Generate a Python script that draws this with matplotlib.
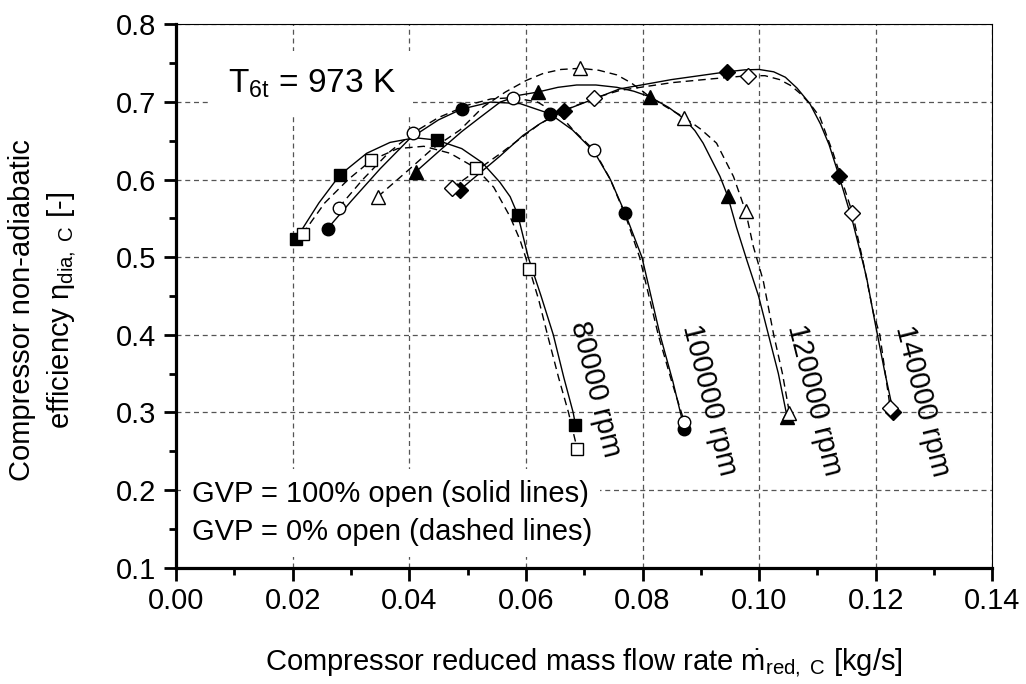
import matplotlib
matplotlib.use("Agg")
import matplotlib.pyplot as plt
from matplotlib.ticker import MultipleLocator, FormatStrFormatter

plt.rcParams['font.family'] = ['Liberation Sans', 'DejaVu Sans']
plt.rcParams['mathtext.fontset'] = 'custom'
plt.rcParams['mathtext.rm'] = 'Liberation Sans'
plt.rcParams['mathtext.it'] = 'Liberation Sans'
plt.rcParams['mathtext.bf'] = 'Liberation Sans:bold'

# ---------------- measured points (markers) ----------------
speeds = ["80000 rpm", "100000 rpm", "120000 rpm", "140000 rpm"]

# GVP = 100 % open (solid lines, filled markers)
m80_open100_x = [0.0206, 0.0281, 0.0447, 0.0586, 0.0685]
m80_open100_y = [0.524, 0.606, 0.651, 0.555, 0.284]
m100_open100_x = [0.0260, 0.0490, 0.0641, 0.0770, 0.0872]
m100_open100_y = [0.537, 0.691, 0.685, 0.557, 0.278]
m120_open100_x = [0.0411, 0.0621, 0.0812, 0.0946, 0.1048]
m120_open100_y = [0.610, 0.713, 0.707, 0.579, 0.294]
m140_open100_x = [0.0487, 0.0665, 0.0945, 0.1137, 0.1230]
m140_open100_y = [0.587, 0.689, 0.739, 0.605, 0.301]

# GVP = 0 % open (dashed lines, open markers)
m80_open0_x = [0.0217, 0.0335, 0.0514, 0.0606, 0.0688]
m80_open0_y = [0.530, 0.625, 0.615, 0.485, 0.253]
m100_open0_x = [0.0279, 0.0407, 0.0578, 0.0717, 0.0872]
m100_open0_y = [0.564, 0.6605, 0.7057, 0.638, 0.287]
m120_open0_x = [0.0346, 0.0693, 0.0872, 0.0977, 0.1052]
m120_open0_y = [0.578, 0.7435, 0.680, 0.559, 0.299]
m140_open0_x = [0.0473, 0.0717, 0.0981, 0.1160, 0.1225]
m140_open0_y = [0.589, 0.705, 0.734, 0.557, 0.305]

# ---------------- fitted curves ----------------
c80_open100_x = [0.0206, 0.0245, 0.0281, 0.0327, 0.0367, 0.0410, 0.0447, 0.0490, 0.0525,
                 0.0555, 0.0573, 0.0586, 0.0604, 0.0626, 0.0647, 0.0665, 0.0681, 0.0685]
c80_open100_y = [0.524, 0.570, 0.606, 0.634, 0.648, 0.654, 0.651, 0.640, 0.622,
                 0.597, 0.578, 0.555, 0.500, 0.450, 0.400, 0.345, 0.300, 0.284]
c80_open0_x = [0.0217, 0.0255, 0.0295, 0.0335, 0.0380, 0.0425, 0.0470, 0.0514, 0.0545,
               0.0573, 0.0590, 0.0606, 0.0622, 0.0637, 0.0656, 0.0673, 0.0688]
c80_open0_y = [0.530, 0.570, 0.600, 0.625, 0.640, 0.643, 0.634, 0.615, 0.590,
               0.552, 0.522, 0.485, 0.445, 0.400, 0.345, 0.300, 0.253]

c100_open100_x = [0.0260, 0.0300, 0.0350, 0.0401, 0.0450, 0.0490, 0.0540, 0.0590, 0.0641,
                  0.0680, 0.0717, 0.0745, 0.0770, 0.0799, 0.0830, 0.0852, 0.0872]
c100_open100_y = [0.537, 0.572, 0.614, 0.653, 0.677, 0.691, 0.700, 0.698, 0.685,
                  0.664, 0.636, 0.600, 0.557, 0.500, 0.400, 0.340, 0.278]
c100_open0_x = [0.0279, 0.0320, 0.0365, 0.0407, 0.0450, 0.0500, 0.0540, 0.0578, 0.0620,
                0.0660, 0.0681, 0.0717, 0.0745, 0.0770, 0.0795, 0.0827, 0.0850, 0.0872]
c100_open0_y = [0.564, 0.600, 0.635, 0.6605, 0.680, 0.696, 0.704, 0.7057, 0.700,
                0.682, 0.664, 0.638, 0.600, 0.555, 0.500, 0.400, 0.340, 0.287]

c120_open100_x = [0.0411, 0.0453, 0.0490, 0.0521, 0.0556, 0.0590, 0.0621, 0.0655, 0.0687,
                  0.0720, 0.0756, 0.0785, 0.0812, 0.0845, 0.0872, 0.0890, 0.0904, 0.0933,
                  0.0946, 0.0961, 0.0979, 0.0999, 0.1016, 0.1033, 0.1048]
c120_open100_y = [0.610, 0.638, 0.662, 0.680, 0.700, 0.709, 0.713, 0.719, 0.722,
                  0.722, 0.719, 0.714, 0.707, 0.693, 0.678, 0.663, 0.647, 0.604,
                  0.579, 0.539, 0.496, 0.450, 0.400, 0.350, 0.294]
c120_open0_x = [0.0346, 0.0398, 0.0440, 0.0487, 0.0527, 0.0565, 0.0601, 0.0630, 0.0660,
                0.0693, 0.0725, 0.0756, 0.0780, 0.0800, 0.0812, 0.0840, 0.0872, 0.0900,
                0.0927, 0.0956, 0.0977, 0.0990, 0.1007, 0.1025, 0.1040, 0.1052]
c120_open0_y = [0.578, 0.612, 0.640, 0.664, 0.694, 0.713, 0.728, 0.737, 0.742,
                0.7435, 0.741, 0.735, 0.725, 0.714, 0.707, 0.694, 0.680, 0.665,
                0.647, 0.604, 0.559, 0.514, 0.470, 0.400, 0.350, 0.299]

c140_open100_x = [0.0487, 0.0555, 0.0595, 0.0624, 0.0665, 0.0720, 0.0761, 0.0850, 0.0945,
                  0.0975, 0.1000, 0.1025, 0.1045, 0.1065, 0.1087, 0.1105, 0.1120, 0.1137,
                  0.1161, 0.1184, 0.1199, 0.1216, 0.1230]
c140_open100_y = [0.587, 0.630, 0.657, 0.672, 0.689, 0.705, 0.717, 0.729, 0.739,
                  0.7415, 0.742, 0.739, 0.732, 0.718, 0.698, 0.672, 0.645, 0.605,
                  0.544, 0.475, 0.415, 0.350, 0.301]
c140_open0_x = [0.0473, 0.0555, 0.0624, 0.0665, 0.0717, 0.0761, 0.0850, 0.0920, 0.0981,
                0.1010, 0.1035, 0.1055, 0.1072, 0.1090, 0.1104, 0.1127, 0.1160, 0.1179,
                0.1196, 0.1207, 0.1225]
c140_open0_y = [0.589, 0.633, 0.672, 0.689, 0.705, 0.715, 0.725, 0.730, 0.734,
                0.734, 0.729, 0.721, 0.710, 0.695, 0.681, 0.634, 0.557, 0.492,
                0.428, 0.400, 0.305]

# label positions of speed lines
rpm_label_x = [0.0720, 0.0914, 0.1095, 0.1280]
rpm_label_y = [0.330, 0.316, 0.316, 0.315]

markers = ['s', 'o', '^', 'D']
msizes = [8.5, 9, 10, 8.5]

solid_marks = [(m80_open100_x, m80_open100_y), (m100_open100_x, m100_open100_y),
               (m120_open100_x, m120_open100_y), (m140_open100_x, m140_open100_y)]
dashed_marks = [(m80_open0_x, m80_open0_y), (m100_open0_x, m100_open0_y),
                (m120_open0_x, m120_open0_y), (m140_open0_x, m140_open0_y)]
solid_curves = [(c80_open100_x, c80_open100_y), (c100_open100_x, c100_open100_y),
                (c120_open100_x, c120_open100_y), (c140_open100_x, c140_open100_y)]
dashed_curves = [(c80_open0_x, c80_open0_y), (c100_open0_x, c100_open0_y),
                 (c120_open0_x, c120_open0_y), (c140_open0_x, c140_open0_y)]

fig = plt.figure(figsize=(10.26, 6.84), dpi=100)
ax = fig.add_axes([0.1716, 0.1703, 0.7956, 0.7939])

# curves
for i in range(4):
    ax.plot(solid_curves[i][0], solid_curves[i][1], '-', color='black', lw=1.0, zorder=3)
    ax.plot(dashed_curves[i][0], dashed_curves[i][1], color='black', lw=1.0,
            linestyle=(0, (5.5, 3.5)), zorder=3)

# markers
for i in range(4):
    ax.plot(solid_marks[i][0], solid_marks[i][1], linestyle='none', marker=markers[i],
            ms=msizes[i], mfc='black', mec='black', mew=1, zorder=4)
for i in range(4):
    ax.plot(dashed_marks[i][0], dashed_marks[i][1], linestyle='none', marker=markers[i],
            ms=msizes[i], mfc='white', mec='black', mew=1, zorder=5)

# speed labels
for i in range(4):
    ax.text(rpm_label_x[i], rpm_label_y[i], speeds[i], rotation=-76, fontsize=21,
            ha='center', va='center', rotation_mode='anchor', zorder=6)

# axes
ax.set_xlim(0.0, 0.14)
ax.set_ylim(0.1, 0.8)
ax.xaxis.set_major_locator(MultipleLocator(0.02))
ax.xaxis.set_minor_locator(MultipleLocator(0.01))
ax.yaxis.set_major_locator(MultipleLocator(0.1))
ax.yaxis.set_minor_locator(MultipleLocator(0.05))
ax.xaxis.set_major_formatter(FormatStrFormatter('%.2f'))
ax.yaxis.set_major_formatter(FormatStrFormatter('%.1f'))
ax.tick_params(which='major', direction='out', length=9, width=2, labelsize=21, pad=5)
ax.tick_params(which='minor', direction='out', length=5, width=2)
ax.tick_params(top=False, right=False, which='both')

for s in ['left', 'bottom']:
    ax.spines[s].set_linewidth(2.3)
for s in ['top', 'right']:
    ax.spines[s].set_linewidth(0.8)

ax.grid(True, which='major', color='#555555', lw=0.9, linestyle=(0, (4, 3)), zorder=0)
ax.set_axisbelow(True)

# annotations
box = dict(facecolor='white', edgecolor='none', pad=12)
ax.text(0.0089, 0.712, r'$\mathrm{T}_{\mathrm{6t}}$ = 973 K', fontsize=24,
        ha='left', va='baseline', bbox=box, zorder=2)
box2 = dict(facecolor='white', edgecolor='none', pad=8)
ax.text(0.0027, 0.1845, 'GVP = 100% open (solid lines)', fontsize=21,
        ha='left', va='baseline', bbox=box2, zorder=2)
ax.text(0.0027, 0.1354, 'GVP = 0% open (dashed lines)', fontsize=21,
        ha='left', va='baseline', bbox=box2, zorder=2)

fig.text(584 / 1026, 1 - 670 / 684,
         r'Compressor reduced mass flow rate $\dot{m}_{\mathrm{red,\ C}}$ [kg/s]',
         fontsize=21, ha='center', va='baseline')
fig.text(43 / 1026, 1 - 310 / 684,
         'Compressor non-adiabatic\n' + r'efficiency $\eta_{\mathrm{dia,\ C}}$ [-]',
         fontsize=21, rotation=90, ha='center', va='center', multialignment='center',
         linespacing=1.35)

fig.savefig('out.png', dpi=100)
